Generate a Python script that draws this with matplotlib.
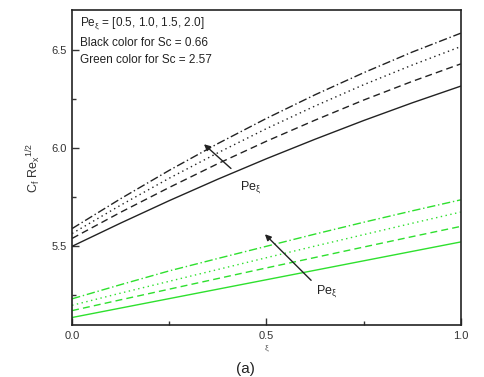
import matplotlib
matplotlib.use("Agg")
import matplotlib.pyplot as plt

plt.rcParams["font.family"] = ["Liberation Sans", "DejaVu Sans"]
plt.rcParams["mathtext.fontset"] = "custom"
plt.rcParams["mathtext.rm"] = "Liberation Sans"
plt.rcParams["mathtext.it"] = "Liberation Sans"

xi = [0.0, 0.125, 0.25, 0.375, 0.5, 0.625, 0.75, 0.875, 1.0]

# Sc = 0.66 (black), Pe_xi = 0.5, 1.0, 1.5, 2.0
black_pe05 = [5.500, 5.618, 5.732, 5.841, 5.945, 6.044, 6.139, 6.229, 6.314]
black_pe10 = [5.540, 5.673, 5.799, 5.920, 6.034, 6.141, 6.243, 6.338, 6.427]
black_pe15 = [5.565, 5.709, 5.846, 5.975, 6.098, 6.213, 6.321, 6.421, 6.515]
black_pe20 = [5.590, 5.742, 5.886, 6.022, 6.150, 6.270, 6.382, 6.487, 6.583]

# Sc = 2.57 (green)
green_pe05 = [5.138, 5.186, 5.234, 5.282, 5.330, 5.378, 5.426, 5.474, 5.522]
green_pe10 = [5.173, 5.228, 5.282, 5.336, 5.390, 5.443, 5.496, 5.549, 5.601]
green_pe15 = [5.200, 5.262, 5.322, 5.382, 5.442, 5.501, 5.559, 5.617, 5.674]
green_pe20 = [5.233, 5.305, 5.375, 5.438, 5.500, 5.562, 5.622, 5.680, 5.736]

styles = ["-", (0, (5, 3)), (0, (1, 2.5)), (0, (6, 2, 1, 2))]
GREEN = "#2ee02e"

fig = plt.figure(figsize=(4.84, 3.77), dpi=100)
ax = fig.add_axes([0.149, 0.138, 0.803, 0.835])

for ys, ls in zip([black_pe05, black_pe10, black_pe15, black_pe20], styles):
    ax.plot(xi, ys, color="#222222", linestyle=ls, linewidth=1.0)
for ys, ls in zip([green_pe05, green_pe10, green_pe15, green_pe20], styles):
    ax.plot(xi, ys, color=GREEN, linestyle=ls, linewidth=1.0)

ax.set_xlim(0, 1)
ax.set_ylim(5.1, 6.7)
ax.set_xticks([0.0, 0.5, 1.0])
ax.set_xticks([0.25, 0.75], minor=True)
ax.set_yticks([5.5, 6.0, 6.5])
ax.set_yticks([5.25, 5.75, 6.25], minor=True)
ax.set_xticklabels(["0.0", "0.5", "1.0"])
ax.set_yticklabels(["5.5", "6.0", "6.5"])
ax.tick_params(which="both", direction="in", labelsize=8, colors="#333333", width=1.0)
ax.tick_params(which="major", length=5, pad=4)
ax.tick_params(which="minor", length=3)
for spine in ax.spines.values():
    spine.set_linewidth(1.2)
    spine.set_color("#222222")

ax.set_ylabel(r"C$_f$ Re$_x$$^{1/2}$", fontsize=9, color="#333333", labelpad=6)
ax.set_xlabel(r"$\xi$", fontsize=6, color="#555555", labelpad=2)

ax.text(0.02, 0.956, r"Pe$_\xi$ = [0.5, 1.0, 1.5, 2.0]", transform=ax.transAxes,
        fontsize=8.5, va="center", color="#222222")
ax.text(0.02, 0.895, "Black color for Sc = 0.66", transform=ax.transAxes,
        fontsize=8.5, va="center", color="#222222")
ax.text(0.02, 0.841, "Green color for Sc = 2.57", transform=ax.transAxes,
        fontsize=8.5, va="center", color="#222222")

arrow = dict(arrowstyle="-|>", color="#222222", linewidth=1.0, mutation_scale=9)
ax.annotate("", xy=(0.334, 6.028), xytext=(0.414, 5.886), arrowprops=arrow)
ax.text(0.432, 5.80, r"Pe$_\xi$", fontsize=9, va="center", color="#222222")
ax.annotate("", xy=(0.491, 5.571), xytext=(0.620, 5.317), arrowprops=arrow)
ax.text(0.628, 5.27, r"Pe$_\xi$", fontsize=9, va="center", color="#222222")

fig.text(0.508, 0.002, "(a)", fontsize=11, ha="center", va="bottom", color="#222222")

fig.savefig("out.png", dpi=100)
